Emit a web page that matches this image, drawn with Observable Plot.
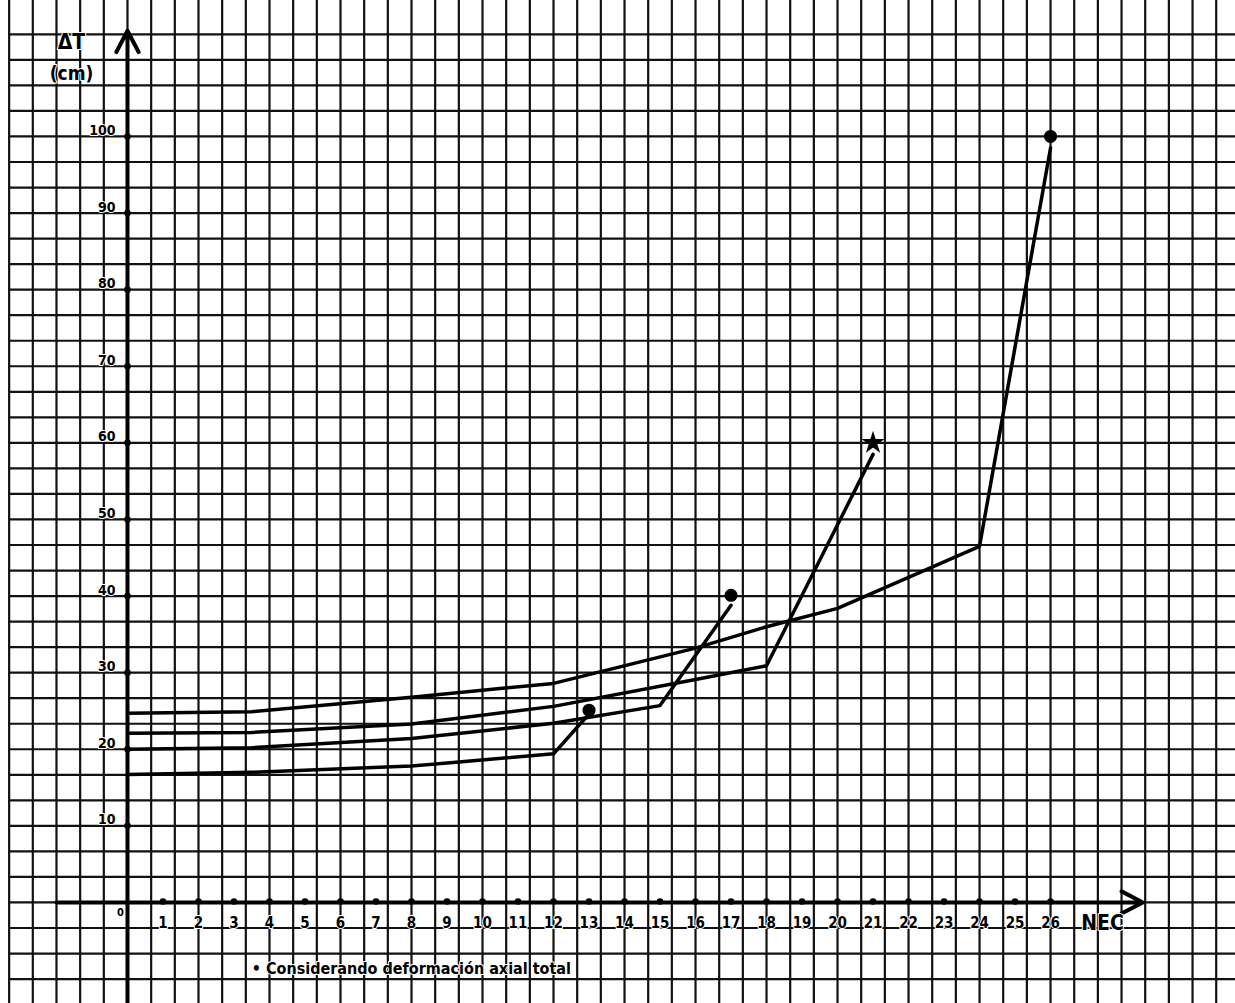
<!DOCTYPE html>
<html>
<head>
<meta charset="utf-8">
<script src="https://cdn.jsdelivr.net/npm/d3@7"></script>
<script src="https://cdn.jsdelivr.net/npm/@observablehq/plot@0.6"></script>
<style>
  html, body { margin: 0; padding: 0; background: #fff; }
  #chart svg { display: block; }
</style>
</head>
<body>
<div id="chart"></div>
<script>
// ---- data ----
const xTickValues = d3.range(1, 27);
const xTickLabels = xTickValues.map(String);
const yTickValues = [10, 20, 30, 40, 50, 60, 70, 80, 90, 100];
const yTickLabels = yTickValues.map(String);

const seriesA_x = [0, 3.5, 8, 12, 16, 18, 20, 24, 26];
const seriesA_y = [24.7, 24.9, 26.8, 28.6, 33.2, 36.0, 38.4, 46.5, 98.5];

const seriesB_x = [0, 3.5, 8, 12, 16, 18, 21];
const seriesB_y = [22.1, 22.2, 23.3, 25.6, 29.1, 30.9, 58.5];

const seriesC_x = [0, 3.5, 8, 12, 15, 17];
const seriesC_y = [20.0, 20.2, 21.4, 23.4, 25.7, 38.8];

const seriesD_x = [0, 3.5, 8, 12, 13];
const seriesD_y = [16.7, 17.0, 17.8, 19.4, 24.6];

const endMarkX = [13, 17, 21, 26];
const endMarkY = [25.1, 40.1, 60, 100];
const endMarkSymbol = ["circle", "circle", "star", "circle"];

const yTitle = ["ΔT", "(cm)"];
const xTitle = "NEC";
const caption = "• Considerando deformación axial total";

// ---- build tables ----
const toPts = (xs, ys, s) => xs.map((x, i) => ({x, y: ys[i], s}));
const lines = [
  ...toPts(seriesA_x, seriesA_y, "A"),
  ...toPts(seriesB_x, seriesB_y, "B"),
  ...toPts(seriesC_x, seriesC_y, "C"),
  ...toPts(seriesD_x, seriesD_y, "D")
];
const marks = endMarkX.map((x, i) => ({x, y: endMarkY[i], sym: endMarkSymbol[i]}));

// graph-paper grid (2/3 unit in x, 10/3 unit in y)
const vGrid = d3.range(-5, 48).map(k => k * 2 / 3);
const hGrid = d3.range(-3, 35).map(k => k * 10 / 3);

const XD = [-3.577, 31.21];
const YD = [-13.19, 117.75];
const font = "'DejaVu Sans Condensed', 'DejaVu Sans', sans-serif";
const txt = {fontWeight: "bold", fill: "#000", stroke: "#fff", strokeWidth: 2, paintOrder: "stroke"};

const chart = Plot.plot({
  width: 1235,
  height: 1003,
  margin: 0,
  x: {domain: XD, axis: null},
  y: {domain: YD, axis: null},
  style: {background: "#fff", fontFamily: font, overflow: "visible"},
  marks: [
    Plot.ruleX(vGrid, {stroke: "#111", strokeWidth: 2.2}),
    Plot.ruleY(hGrid, {x1: -10 / 3, x2: XD[1], stroke: "#111", strokeWidth: 2.2}),
    // axes
    Plot.arrow([{x1: 0, y1: YD[0], x2: 0, y2: 113.8}], {x1: "x1", y1: "y1", x2: "x2", y2: "y2", stroke: "#000", strokeWidth: 4, headLength: 9, headAngle: 55}),
    Plot.arrow([{x1: -2, y1: 0, x2: 28.6, y2: 0}], {x1: "x1", y1: "y1", x2: "x2", y2: "y2", stroke: "#000", strokeWidth: 4, headLength: 9, headAngle: 55}),
    Plot.dot(xTickValues, {x: d => d, y: 0, r: 3.3, fill: "#000", dy: -1}),
    Plot.dot(yTickValues, {x: 0, y: d => d, r: 3.3, fill: "#000"}),
    // tick labels
    Plot.text(xTickValues, {x: d => d, y: 0, text: (d, i) => xTickLabels[i], dy: 21, fontSize: 15, ...txt}),
    Plot.text(yTickValues, {x: 0, y: d => d, text: (d, i) => yTickLabels[i], dx: -12, dy: -6, textAnchor: "end", fontSize: 14, ...txt}),
    Plot.text(["0"], {x: 0, y: 0, dx: -7, dy: 10, fontSize: 11, ...txt}),
    // titles
    Plot.text([yTitle[0]], {x: 0, y: 113.8, dx: -56, dy: 12, fontSize: 21, ...txt}),
    Plot.text([yTitle[1]], {x: 0, y: 113.8, dx: -56, dy: 43, fontSize: 19, ...txt}),
    Plot.text([xTitle], {x: 26, y: 0, dx: 52, dy: 21, fontSize: 21, ...txt}),
    Plot.text([caption], {x: 3.5, y: 0, dy: 66, textAnchor: "start", fontSize: 16, ...txt}),
    // data
    Plot.line(lines, {x: "x", y: "y", z: "s", stroke: "#000", strokeWidth: 3.5, strokeLinejoin: "round", strokeLinecap: "round"}),
    Plot.dot(marks, {x: "x", y: "y", symbol: "sym", r: 5.8, fill: "#000", stroke: "#000"})
  ]
});
document.getElementById("chart").appendChild(chart);
</script>
</body>
</html>
